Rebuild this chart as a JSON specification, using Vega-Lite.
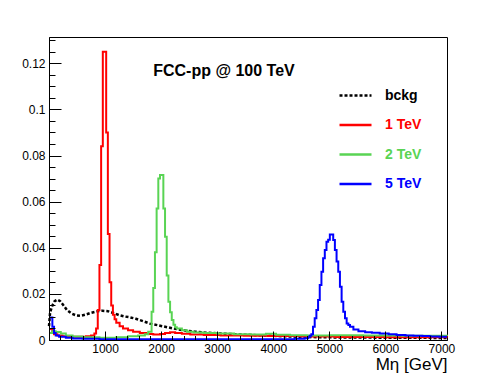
{
  "$schema": "https://vega.github.io/schema/vega-lite/v6.json",
  "width": 398,
  "height": 303,
  "autosize": {"type": "none"},
  "padding": {"left": 49, "top": 37, "right": 51, "bottom": 38},
  "background": "white",
  "config": {
    "view": {"stroke": "black", "strokeWidth": 1},
    "font": "Liberation Sans",
    "axis": {"grid": false, "domainColor": "black", "tickColor": "black", "labelColor": "black", "titleColor": "black", "labelFont": "Liberation Sans", "titleFont": "Liberation Sans"}
  },
  "datasets": {
    "bkg": [
      {"series": "bckg", "m": 0, "v": 0.006}, {"series": "bckg", "m": 20, "v": 0.012}, {"series": "bckg", "m": 60, "v": 0.015},
      {"series": "bckg", "m": 100, "v": 0.0168}, {"series": "bckg", "m": 150, "v": 0.0175}, {"series": "bckg", "m": 200, "v": 0.0168},
      {"series": "bckg", "m": 260, "v": 0.015}, {"series": "bckg", "m": 320, "v": 0.013}, {"series": "bckg", "m": 400, "v": 0.0115},
      {"series": "bckg", "m": 480, "v": 0.0107}, {"series": "bckg", "m": 560, "v": 0.0105}, {"series": "bckg", "m": 650, "v": 0.011},
      {"series": "bckg", "m": 750, "v": 0.0118}, {"series": "bckg", "m": 850, "v": 0.0124}, {"series": "bckg", "m": 950, "v": 0.0127},
      {"series": "bckg", "m": 1050, "v": 0.0125}, {"series": "bckg", "m": 1150, "v": 0.0117}, {"series": "bckg", "m": 1250, "v": 0.0108},
      {"series": "bckg", "m": 1350, "v": 0.0102}, {"series": "bckg", "m": 1450, "v": 0.0098}, {"series": "bckg", "m": 1550, "v": 0.0092},
      {"series": "bckg", "m": 1650, "v": 0.0084}, {"series": "bckg", "m": 1800, "v": 0.0071}, {"series": "bckg", "m": 2000, "v": 0.0061},
      {"series": "bckg", "m": 2200, "v": 0.0051}, {"series": "bckg", "m": 2400, "v": 0.0042}, {"series": "bckg", "m": 2600, "v": 0.0036},
      {"series": "bckg", "m": 2800, "v": 0.0032}, {"series": "bckg", "m": 3000, "v": 0.0029}, {"series": "bckg", "m": 3300, "v": 0.0025},
      {"series": "bckg", "m": 3600, "v": 0.0022}, {"series": "bckg", "m": 3900, "v": 0.0019}, {"series": "bckg", "m": 4200, "v": 0.0016},
      {"series": "bckg", "m": 4500, "v": 0.0014}, {"series": "bckg", "m": 4800, "v": 0.0012}, {"series": "bckg", "m": 5200, "v": 0.0011},
      {"series": "bckg", "m": 6000, "v": 0.001}, {"series": "bckg", "m": 7000, "v": 0.0009}, {"series": "bckg", "m": 7100, "v": 0.0009}
    ],
    "sig": [
      {"series": "1 TeV", "m": 0, "v": 0.0048}, {"series": "1 TeV", "m": 30, "v": 0.0048}, {"series": "1 TeV", "m": 60, "v": 0.003},
      {"series": "1 TeV", "m": 90, "v": 0.0025}, {"series": "1 TeV", "m": 150, "v": 0.002}, {"series": "1 TeV", "m": 240, "v": 0.0016},
      {"series": "1 TeV", "m": 360, "v": 0.0014}, {"series": "1 TeV", "m": 540, "v": 0.0014}, {"series": "1 TeV", "m": 660, "v": 0.0016},
      {"series": "1 TeV", "m": 750, "v": 0.002}, {"series": "1 TeV", "m": 810, "v": 0.0028}, {"series": "1 TeV", "m": 840, "v": 0.005},
      {"series": "1 TeV", "m": 870, "v": 0.013}, {"series": "1 TeV", "m": 900, "v": 0.0325}, {"series": "1 TeV", "m": 930, "v": 0.084},
      {"series": "1 TeV", "m": 960, "v": 0.125}, {"series": "1 TeV", "m": 990, "v": 0.125}, {"series": "1 TeV", "m": 1020, "v": 0.09},
      {"series": "1 TeV", "m": 1050, "v": 0.046}, {"series": "1 TeV", "m": 1080, "v": 0.025}, {"series": "1 TeV", "m": 1110, "v": 0.015},
      {"series": "1 TeV", "m": 1140, "v": 0.011}, {"series": "1 TeV", "m": 1170, "v": 0.009}, {"series": "1 TeV", "m": 1200, "v": 0.0075},
      {"series": "1 TeV", "m": 1260, "v": 0.006}, {"series": "1 TeV", "m": 1320, "v": 0.005}, {"series": "1 TeV", "m": 1410, "v": 0.0042},
      {"series": "1 TeV", "m": 1500, "v": 0.0036}, {"series": "1 TeV", "m": 1620, "v": 0.003}, {"series": "1 TeV", "m": 1740, "v": 0.0026},
      {"series": "1 TeV", "m": 1860, "v": 0.0024}, {"series": "1 TeV", "m": 1980, "v": 0.0026}, {"series": "1 TeV", "m": 2070, "v": 0.003},
      {"series": "1 TeV", "m": 2160, "v": 0.0034}, {"series": "1 TeV", "m": 2250, "v": 0.003}, {"series": "1 TeV", "m": 2370, "v": 0.0027},
      {"series": "1 TeV", "m": 2520, "v": 0.0024}, {"series": "1 TeV", "m": 2760, "v": 0.0022}, {"series": "1 TeV", "m": 3060, "v": 0.002},
      {"series": "1 TeV", "m": 3480, "v": 0.0018}, {"series": "1 TeV", "m": 3900, "v": 0.0017}, {"series": "1 TeV", "m": 4500, "v": 0.0015},
      {"series": "1 TeV", "m": 5100, "v": 0.0013}, {"series": "1 TeV", "m": 6000, "v": 0.0012}, {"series": "1 TeV", "m": 7100, "v": 0.0011},

      {"series": "2 TeV", "m": 0, "v": 0.003}, {"series": "2 TeV", "m": 60, "v": 0.0038}, {"series": "2 TeV", "m": 120, "v": 0.0035},
      {"series": "2 TeV", "m": 210, "v": 0.0028}, {"series": "2 TeV", "m": 300, "v": 0.002}, {"series": "2 TeV", "m": 420, "v": 0.0015},
      {"series": "2 TeV", "m": 600, "v": 0.0012}, {"series": "2 TeV", "m": 900, "v": 0.001}, {"series": "2 TeV", "m": 1200, "v": 0.0012},
      {"series": "2 TeV", "m": 1410, "v": 0.0016}, {"series": "2 TeV", "m": 1590, "v": 0.002}, {"series": "2 TeV", "m": 1710, "v": 0.0025},
      {"series": "2 TeV", "m": 1770, "v": 0.0036}, {"series": "2 TeV", "m": 1830, "v": 0.0123}, {"series": "2 TeV", "m": 1860, "v": 0.0225},
      {"series": "2 TeV", "m": 1890, "v": 0.038}, {"series": "2 TeV", "m": 1920, "v": 0.057}, {"series": "2 TeV", "m": 1950, "v": 0.07},
      {"series": "2 TeV", "m": 1980, "v": 0.0716}, {"series": "2 TeV", "m": 2010, "v": 0.0716}, {"series": "2 TeV", "m": 2040, "v": 0.057},
      {"series": "2 TeV", "m": 2070, "v": 0.0448}, {"series": "2 TeV", "m": 2100, "v": 0.028}, {"series": "2 TeV", "m": 2130, "v": 0.0166},
      {"series": "2 TeV", "m": 2160, "v": 0.012}, {"series": "2 TeV", "m": 2190, "v": 0.0087}, {"series": "2 TeV", "m": 2220, "v": 0.0066},
      {"series": "2 TeV", "m": 2250, "v": 0.0055}, {"series": "2 TeV", "m": 2280, "v": 0.005}, {"series": "2 TeV", "m": 2370, "v": 0.0042},
      {"series": "2 TeV", "m": 2460, "v": 0.0036}, {"series": "2 TeV", "m": 2580, "v": 0.0032}, {"series": "2 TeV", "m": 2760, "v": 0.003},
      {"series": "2 TeV", "m": 3000, "v": 0.0028}, {"series": "2 TeV", "m": 3300, "v": 0.0025}, {"series": "2 TeV", "m": 3600, "v": 0.0024},
      {"series": "2 TeV", "m": 3870, "v": 0.0027}, {"series": "2 TeV", "m": 4050, "v": 0.0023}, {"series": "2 TeV", "m": 4300, "v": 0.0021},
      {"series": "2 TeV", "m": 4600, "v": 0.002}, {"series": "2 TeV", "m": 5000, "v": 0.0021}, {"series": "2 TeV", "m": 5600, "v": 0.002},
      {"series": "2 TeV", "m": 6300, "v": 0.0018}, {"series": "2 TeV", "m": 7100, "v": 0.0017},

      {"series": "5 TeV", "m": 0, "v": 0.0098}, {"series": "5 TeV", "m": 30, "v": 0.0098}, {"series": "5 TeV", "m": 60, "v": 0.0058},
      {"series": "5 TeV", "m": 90, "v": 0.003}, {"series": "5 TeV", "m": 120, "v": 0.002}, {"series": "5 TeV", "m": 180, "v": 0.0014},
      {"series": "5 TeV", "m": 300, "v": 0.001}, {"series": "5 TeV", "m": 420, "v": 0.0007}, {"series": "5 TeV", "m": 600, "v": 0.0005},
      {"series": "5 TeV", "m": 900, "v": 0.0003}, {"series": "5 TeV", "m": 4380, "v": 0.0005}, {"series": "5 TeV", "m": 4560, "v": 0.0008},
      {"series": "5 TeV", "m": 4620, "v": 0.0012}, {"series": "5 TeV", "m": 4650, "v": 0.0018}, {"series": "5 TeV", "m": 4680, "v": 0.0025},
      {"series": "5 TeV", "m": 4710, "v": 0.0058}, {"series": "5 TeV", "m": 4740, "v": 0.0094}, {"series": "5 TeV", "m": 4770, "v": 0.013},
      {"series": "5 TeV", "m": 4800, "v": 0.0173}, {"series": "5 TeV", "m": 4830, "v": 0.0238}, {"series": "5 TeV", "m": 4860, "v": 0.0296},
      {"series": "5 TeV", "m": 4890, "v": 0.0354}, {"series": "5 TeV", "m": 4920, "v": 0.039}, {"series": "5 TeV", "m": 4950, "v": 0.0426},
      {"series": "5 TeV", "m": 4980, "v": 0.0435}, {"series": "5 TeV", "m": 5010, "v": 0.0458}, {"series": "5 TeV", "m": 5040, "v": 0.0458},
      {"series": "5 TeV", "m": 5070, "v": 0.0434}, {"series": "5 TeV", "m": 5100, "v": 0.039}, {"series": "5 TeV", "m": 5130, "v": 0.034},
      {"series": "5 TeV", "m": 5160, "v": 0.0296}, {"series": "5 TeV", "m": 5190, "v": 0.0231}, {"series": "5 TeV", "m": 5220, "v": 0.0166},
      {"series": "5 TeV", "m": 5250, "v": 0.0123}, {"series": "5 TeV", "m": 5280, "v": 0.0094}, {"series": "5 TeV", "m": 5310, "v": 0.0072},
      {"series": "5 TeV", "m": 5340, "v": 0.0065}, {"series": "5 TeV", "m": 5370, "v": 0.0058}, {"series": "5 TeV", "m": 5430, "v": 0.0046},
      {"series": "5 TeV", "m": 5520, "v": 0.0038}, {"series": "5 TeV", "m": 5640, "v": 0.0034}, {"series": "5 TeV", "m": 5760, "v": 0.0031},
      {"series": "5 TeV", "m": 5900, "v": 0.0028}, {"series": "5 TeV", "m": 6060, "v": 0.0025}, {"series": "5 TeV", "m": 6200, "v": 0.0022},
      {"series": "5 TeV", "m": 6360, "v": 0.002}, {"series": "5 TeV", "m": 6500, "v": 0.0018}, {"series": "5 TeV", "m": 6660, "v": 0.0017},
      {"series": "5 TeV", "m": 6800, "v": 0.0015}, {"series": "5 TeV", "m": 6960, "v": 0.0014}, {"series": "5 TeV", "m": 7100, "v": 0.0014}
    ],
    "note": [{"label": "FCC-pp @ 100 TeV", "m": 1859, "v": 0.1167}]
  },
  "encoding": {
    "x": {
      "field": "m", "type": "quantitative",
      "scale": {"domain": [0, 7100], "nice": false, "zero": false},
      "axis": {
        "values": [0,200,400,600,800,1000,1200,1400,1600,1800,2000,2200,2400,2600,2800,3000,3200,3400,3600,3800,4000,4200,4400,4600,4800,5000,5200,5400,5600,5800,6000,6200,6400,6600,6800,7000],
        "labelExpr": "datum.value % 1000 === 0 && datum.value > 0 ? format(datum.value, 'd') : ''",
        "tickSize": {"condition": {"test": "datum.value % 1000 === 0", "value": -9}, "value": -4.5},
        "labelPadding": 12,
        "labelFontSize": 12,
        "labelFlush": false,
        "labelOverlap": false,
        "title": "Mη [GeV]",
        "titleAnchor": "end",
        "titleFontSize": 17,
        "titleFontWeight": "normal",
        "titlePadding": -2,
        "zindex": 1
      }
    },
    "y": {
      "field": "v", "type": "quantitative",
      "scale": {"domain": [0, 0.1314], "nice": false},
      "axis": {
        "values": [0,0.005,0.01,0.015,0.02,0.025,0.03,0.035,0.04,0.045,0.05,0.055,0.06,0.065,0.07,0.075,0.08,0.085,0.09,0.095,0.1,0.105,0.11,0.115,0.12,0.125,0.13],
        "labelExpr": "round(datum.value * 1000) % 20 === 0 ? format(datum.value, '~g') : ''",
        "tickSize": {"condition": {"test": "round(datum.value * 1000) % 20 === 0", "value": -12}, "value": -6},
        "labelPadding": 16,
        "labelFontSize": 12,
        "labelOverlap": false,
        "title": null,
        "zindex": 1
      }
    }
  },
  "layer": [
    {
      "data": {"name": "bkg"},
      "mark": {"type": "line", "interpolate": "linear", "strokeWidth": 2.5},
      "encoding": {
        "color": {"field": "series", "type": "nominal",
          "scale": {"domain": ["bckg", "1 TeV", "2 TeV", "5 TeV"], "range": ["#000000", "#ff0000", "#59d454", "#0000ff"]},
          "legend": {
            "title": null, "orient": "none", "legendX": 289, "legendY": 41, "padding": 0,
            "symbolType": "stroke", "symbolSize": 1024, "symbolStrokeWidth": 2.5,
            "labelFont": "Liberation Sans", "labelFontSize": 14, "labelFontWeight": "bold",
            "labelOffset": 12, "rowPadding": 4.5,
            "labelColor": {"expr": "scale('color', datum.value)"}
          }
        },
        "strokeDash": {"field": "series", "type": "nominal",
          "scale": {"domain": ["bckg", "1 TeV", "2 TeV", "5 TeV"], "range": [[3, 2], [1, 0], [1, 0], [1, 0]]},
          "legend": null
        }
      }
    },
    {
      "data": {"name": "sig"},
      "mark": {"type": "line", "interpolate": "step-after", "strokeWidth": 2},
      "encoding": {
        "color": {"field": "series", "type": "nominal"},
        "strokeDash": {"field": "series", "type": "nominal"}
      }
    },
    {
      "data": {"name": "note"},
      "mark": {"type": "text", "font": "Liberation Sans", "fontSize": 16, "fontWeight": "bold", "align": "left", "baseline": "middle", "fill": "black"},
      "encoding": {
        "text": {"field": "label", "type": "nominal"}
      }
    }
  ]
}
